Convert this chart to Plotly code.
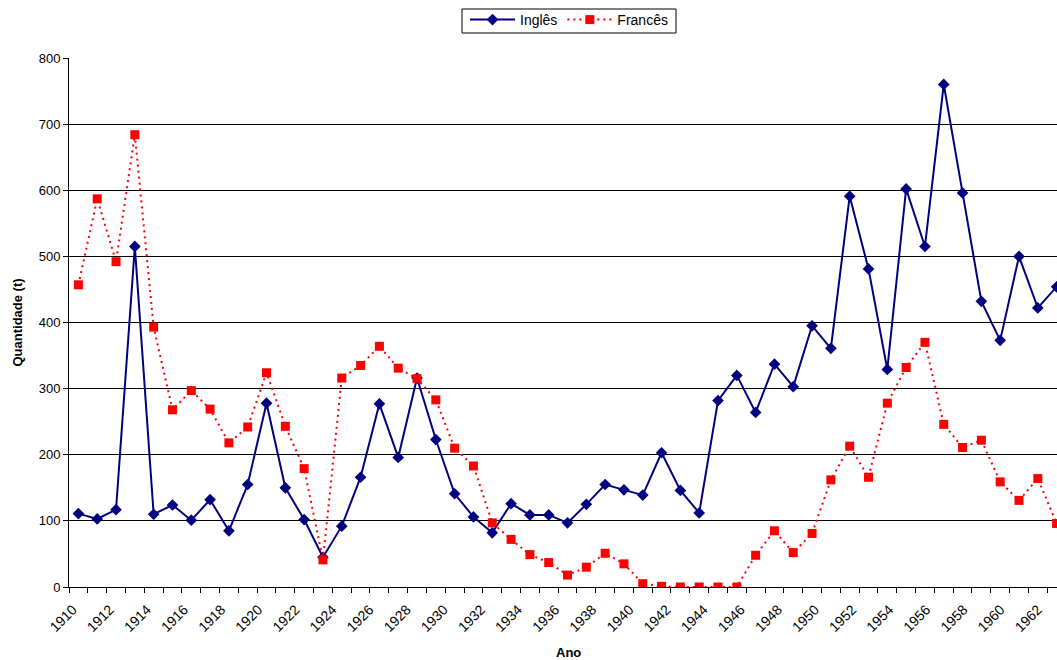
import plotly.graph_objects as go

anos = list(range(1910, 1963))

ingles = [111, 103, 117, 515, 110, 124, 101, 132, 85, 155,
          278, 150, 102, 45, 92, 166, 277, 196, 316, 223,
          141, 106, 82, 126, 109, 109, 97, 125, 155, 147,
          139, 203, 146, 112, 282, 320, 264, 337, 303, 395,
          361, 591, 481, 329, 602, 515, 760, 596, 432, 373,
          500, 422, 454]

frances = [457, 587, 492, 684, 393, 268, 297, 269, 218, 242,
           324, 243, 179, 41, 316, 335, 364, 331, 315, 283,
           210, 183, 97, 72, 49, 37, 18, 30, 51, 35,
           5, 1, 0, 0, 0, 0, 48, 85, 52, 81,
           162, 213, 166, 278, 332, 370, 246, 211, 222, 159,
           131, 164, 96]

rotulos_x = list(range(1910, 1963, 2))
rotulos_y = list(range(0, 801, 100))

FONT = "Liberation Sans, Arial, sans-serif"

# plot-area geometry (pixels)
L, T, W, H = 69, 58, 988, 529

fig = go.Figure()
fig.add_trace(go.Scatter(
    x=anos, y=ingles, name="Inglês", mode="lines+markers",
    line=dict(color="#000080", width=2),
    marker=dict(symbol="diamond", size=9, color="#000080"),
))
fig.add_trace(go.Scatter(
    x=anos, y=frances, name="Francês", mode="lines+markers",
    line=dict(color="#FF0000", width=2, dash="2px,4px"),
    marker=dict(symbol="square", size=9, color="#FF0000"),
))

def px_x(px):
    return (px - L) / W

def px_y(py):
    return (T + H - py) / H

# rotated labels sit slightly left of their category (as in the original render)
pos_rotulos = [a - 0.3 - (a - rotulos_x[0]) * 0.0135 for a in rotulos_x]

fig.update_layout(
    width=1057, height=660,
    margin=dict(l=L, r=1057 - L - W, t=T, b=660 - T - H, autoexpand=False),
    paper_bgcolor="white", plot_bgcolor="white",
    font=dict(family=FONT, size=13, color="black"),
    showlegend=True,
    legend=dict(
        orientation="h", xref="container", yref="container",
        x=569 / 1057, xanchor="center", y=1 - 4 / 660, yanchor="top",
        borderwidth=0, bgcolor="rgba(0,0,0,0)",
        font=dict(family=FONT, size=14, color="black"),
        itemwidth=45, tracegroupgap=0,
    ),
    shapes=[
        dict(type="rect", xref="paper", yref="paper",
             x0=px_x(462), x1=px_x(676), y0=px_y(33), y1=px_y(9),
             line=dict(color="black", width=1), fillcolor="rgba(0,0,0,0)",
             layer="below"),
    ],
    annotations=[
        dict(text="<b>Quantidade (t)</b>", xref="paper", yref="paper",
             x=px_x(17), y=0.5, xanchor="center", yanchor="middle",
             textangle=-90, showarrow=False,
             font=dict(family=FONT, size=13, color="black")),
        dict(text="<b>Ano</b>", xref="paper", yref="paper",
             x=px_x(568), y=px_y(652), xanchor="center",
             yanchor="middle", showarrow=False,
             font=dict(family=FONT, size=13, color="black")),
    ],
)

fig.update_xaxes(
    range=[1909.5, 1962.02], automargin=False,
    tickmode="array", tickvals=pos_rotulos,
    ticktext=[str(v) for v in rotulos_x],
    tickangle=-45, ticks="outside", ticklen=8, tickcolor="rgba(0,0,0,0)",
    tickfont=dict(family=FONT, size=14, color="black"),
    ticklabeloverflow="allow",
    showgrid=False, zeroline=False,
    showline=True, linecolor="black", linewidth=1,
    minor=dict(tickmode="array", tickvals=[1909.5 + i for i in range(54)],
               ticks="outside", ticklen=5, tickcolor="black", showgrid=False),
)
fig.update_yaxes(
    range=[0, 800], automargin=False,
    tickmode="array", tickvals=rotulos_y,
    ticks="outside", ticklen=5, tickcolor="black",
    tickfont=dict(family=FONT, size=13, color="black"),
    showgrid=True, gridcolor="black", gridwidth=1,
    zeroline=False, showline=True, linecolor="black", linewidth=1,
)

fig.write_html("out.html",
               config={"displayModeBar": False},
               post_script="document.body.style.margin='0';document.body.style.overflow='hidden';")
